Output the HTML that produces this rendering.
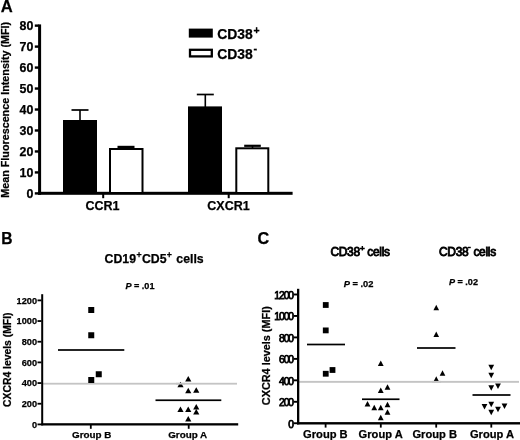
<!DOCTYPE html>
<html><head><meta charset="utf-8"><title>Figure</title>
<style>html,body{margin:0;padding:0;background:#fff;}body{width:520px;height:440px;overflow:hidden;}svg{display:block;filter:blur(0.35px);}text{font-family:"Liberation Sans", Arial, Helvetica, sans-serif;fill:#000;}.b{font-weight:bold;stroke:#000;stroke-width:0.25px;}</style>
</head><body>
<svg width="520" height="440" viewBox="0 0 520 440">
<rect width="520" height="440" fill="#fff"/>
<text class="b" x="0.8" y="12.1" font-size="16.6">A</text>
<text class="b" transform="translate(9.3,197.8) rotate(-90)" font-size="10.7" textLength="176" lengthAdjust="spacingAndGlyphs">Mean Fluorescence Intensity (MFI)</text>
<rect x="38.1" y="24.4" width="3" height="170.4" fill="#000"/>
<rect x="38.1" y="191.8" width="254.5" height="3" fill="#000"/>
<rect x="34.8" y="192.20" width="4" height="2.4" fill="#000"/>
<text class="b" x="33.4" y="198.10" font-size="12.4" text-anchor="end">0</text>
<rect x="34.8" y="171.23" width="4" height="2.4" fill="#000"/>
<text class="b" x="33.4" y="177.13" font-size="12.4" text-anchor="end">10</text>
<rect x="34.8" y="150.26" width="4" height="2.4" fill="#000"/>
<text class="b" x="33.4" y="156.16" font-size="12.4" text-anchor="end">20</text>
<rect x="34.8" y="129.29" width="4" height="2.4" fill="#000"/>
<text class="b" x="33.4" y="135.19" font-size="12.4" text-anchor="end">30</text>
<rect x="34.8" y="108.32" width="4" height="2.4" fill="#000"/>
<text class="b" x="33.4" y="114.22" font-size="12.4" text-anchor="end">40</text>
<rect x="34.8" y="87.35" width="4" height="2.4" fill="#000"/>
<text class="b" x="33.4" y="93.25" font-size="12.4" text-anchor="end">50</text>
<rect x="34.8" y="66.38" width="4" height="2.4" fill="#000"/>
<text class="b" x="33.4" y="72.28" font-size="12.4" text-anchor="end">60</text>
<rect x="34.8" y="45.41" width="4" height="2.4" fill="#000"/>
<text class="b" x="33.4" y="51.31" font-size="12.4" text-anchor="end">70</text>
<rect x="34.8" y="24.44" width="4" height="2.4" fill="#000"/>
<text class="b" x="33.4" y="30.34" font-size="12.4" text-anchor="end">80</text>
<rect x="102.20" y="193" width="2" height="5.2" fill="#000"/>
<rect x="227.70" y="193" width="2" height="5.2" fill="#000"/>
<rect x="63" y="120" width="34" height="73" fill="#000"/>
<rect x="188" y="106.4" width="34" height="86.6" fill="#000"/>
<rect x="110" y="149" width="32.5" height="44" fill="#fff" stroke="#000" stroke-width="2"/>
<rect x="236.3" y="148.3" width="32" height="44.7" fill="#fff" stroke="#000" stroke-width="2"/>
<rect x="79.20" y="110.00" width="1.6" height="11.00" fill="#000"/>
<rect x="71.50" y="109.15" width="17.00" height="1.70" fill="#000"/>
<rect x="204.50" y="94.50" width="1.6" height="13.50" fill="#000"/>
<rect x="196.80" y="93.65" width="17.00" height="1.70" fill="#000"/>
<rect x="125.20" y="146.90" width="1.6" height="2.10" fill="#000"/>
<rect x="117.50" y="145.80" width="17.00" height="2.20" fill="#000"/>
<rect x="251.70" y="145.80" width="1.6" height="3.20" fill="#000"/>
<rect x="244.20" y="144.70" width="16.60" height="2.20" fill="#000"/>
<text class="b" x="102.4" y="210.2" font-size="12.5" text-anchor="middle">CCR1</text>
<text class="b" x="228.5" y="210.2" font-size="12.5" text-anchor="middle">CXCR1</text>
<rect x="188.8" y="28.6" width="24" height="9" fill="#000"/>
<rect x="190" y="49.8" width="21.8" height="6.6" fill="#fff" stroke="#000" stroke-width="2.3"/>
<text class="b" x="217.3" y="38.6" font-size="13.9">CD38</text><text class="b" x="253.5" y="34" font-size="10.5">+</text>
<text class="b" x="217.3" y="58.6" font-size="13.9">CD38</text><text class="b" x="253.5" y="52" font-size="11">-</text>
<text class="b" x="1.3" y="243.6" font-size="15.6">B</text>
<text class="b" x="104.6" y="263" font-size="12.3">CD19</text><text class="b" x="136.4" y="258" font-size="8.8">+</text><text class="b" x="141.9" y="263" font-size="12.3">CD5</text><text class="b" x="166.7" y="258" font-size="8.8">+</text><text class="b" x="176.3" y="263" font-size="12.3">cells</text>
<text class="b" x="125.4" y="288.9" font-size="9.1"><tspan font-style="italic">P</tspan> = .01</text>
<text class="b" transform="translate(11,407) rotate(-90)" font-size="10.3" textLength="94.5" lengthAdjust="spacingAndGlyphs">CXCR4 levels (MFI)</text>
<rect x="43" y="382.8" width="194" height="1.8" fill="#c4c4c4"/>
<rect x="41.2" y="294.2" width="2" height="131.2" fill="#000"/>
<rect x="41.2" y="423.2" width="197" height="2.3" fill="#000"/>
<rect x="37.5" y="423.50" width="4" height="1.8" fill="#000"/>
<text class="b" x="37" y="427.70" font-size="9.2" text-anchor="end">0</text>
<rect x="37.5" y="402.83" width="4" height="1.8" fill="#000"/>
<text class="b" x="37" y="407.03" font-size="9.2" text-anchor="end">200</text>
<rect x="37.5" y="382.16" width="4" height="1.8" fill="#000"/>
<text class="b" x="37" y="386.36" font-size="9.2" text-anchor="end">400</text>
<rect x="37.5" y="361.49" width="4" height="1.8" fill="#000"/>
<text class="b" x="37" y="365.69" font-size="9.2" text-anchor="end">600</text>
<rect x="37.5" y="340.82" width="4" height="1.8" fill="#000"/>
<text class="b" x="37" y="345.02" font-size="9.2" text-anchor="end">800</text>
<rect x="37.5" y="320.15" width="4" height="1.8" fill="#000"/>
<text class="b" x="37" y="324.35" font-size="9.2" text-anchor="end">1000</text>
<rect x="37.5" y="299.48" width="4" height="1.8" fill="#000"/>
<text class="b" x="37" y="303.68" font-size="9.2" text-anchor="end">1200</text>
<rect x="89.90" y="424" width="1.8" height="4.8" fill="#000"/>
<rect x="187.80" y="424" width="1.8" height="4.8" fill="#000"/>
<rect x="88.25" y="307.00" width="6.00" height="6.00" fill="#000"/>
<rect x="88.25" y="332.25" width="6.00" height="6.00" fill="#000"/>
<rect x="95.75" y="371.25" width="6.00" height="6.00" fill="#000"/>
<rect x="88.25" y="377.00" width="6.00" height="6.00" fill="#000"/>
<rect x="58.00" y="349.15" width="66.30" height="1.70" fill="#000"/>
<path d="M188.25 375.90L191.35 381.60L185.15 381.60Z" fill="#000"/>
<path d="M180.50 381.65L183.60 387.35L177.40 387.35Z" fill="#000"/>
<path d="M188.25 387.65L191.35 393.35L185.15 393.35Z" fill="#000"/>
<path d="M196.25 387.15L199.35 392.85L193.15 392.85Z" fill="#000"/>
<path d="M180.50 406.40L183.60 412.10L177.40 412.10Z" fill="#000"/>
<path d="M188.25 406.40L191.35 412.10L185.15 412.10Z" fill="#000"/>
<path d="M196.25 403.90L199.35 409.60L193.15 409.60Z" fill="#000"/>
<path d="M196.25 408.90L199.35 414.60L193.15 414.60Z" fill="#000"/>
<path d="M188.25 415.90L191.35 421.60L185.15 421.60Z" fill="#000"/>
<rect x="176" y="382.8" width="9" height="1.8" fill="#c4c4c4"/>
<rect x="155.50" y="399.40" width="65.80" height="1.70" fill="#000"/>
<text class="b" x="91.8" y="437.8" font-size="9.85" text-anchor="middle">Group B</text>
<text class="b" x="187.7" y="437.8" font-size="9.85" text-anchor="middle">Group A</text>
<text class="b" x="257.5" y="243.6" font-size="16.2">C</text>
<text x="330.4" y="255.6" font-size="12" stroke="#000" stroke-width="0.85" letter-spacing="-0.3">CD38<tspan dy="-4.3" font-size="8">+</tspan><tspan dy="4.3"> cells</tspan></text>
<text x="439" y="255.6" font-size="12" stroke="#000" stroke-width="0.85" letter-spacing="-0.3">CD38<tspan dy="-6.8" dx="-0.5" font-size="8">-</tspan><tspan dy="6.8"> cells</tspan></text>
<text class="b" x="343.7" y="286.5" font-size="9.3"><tspan font-style="italic">P</tspan> = .02</text>
<text class="b" x="448.9" y="284.6" font-size="9.1"><tspan font-style="italic">P</tspan> = .02</text>
<text class="b" transform="translate(269.9,405.2) rotate(-90)" font-size="10.8" textLength="99" lengthAdjust="spacingAndGlyphs">CXCR4 levels (MFI)</text>
<rect x="299" y="380.9" width="220" height="1.9" fill="#c4c4c4"/>
<rect x="297" y="288.8" width="2.3" height="135.6" fill="#000"/>
<rect x="297" y="422.1" width="223" height="2.4" fill="#000"/>
<rect x="293.6" y="422.30" width="4" height="1.9" fill="#000"/>
<text x="293" y="427.75" font-size="10.3" text-anchor="end" letter-spacing="-1.05" stroke="#000" stroke-width="0.75">0</text>
<rect x="293.6" y="400.84" width="4" height="1.9" fill="#000"/>
<text x="293" y="406.29" font-size="10.3" text-anchor="end" letter-spacing="-1.05" stroke="#000" stroke-width="0.75">200</text>
<rect x="293.6" y="379.38" width="4" height="1.9" fill="#000"/>
<text x="293" y="384.83" font-size="10.3" text-anchor="end" letter-spacing="-1.05" stroke="#000" stroke-width="0.75">400</text>
<rect x="293.6" y="357.92" width="4" height="1.9" fill="#000"/>
<text x="293" y="363.37" font-size="10.3" text-anchor="end" letter-spacing="-1.05" stroke="#000" stroke-width="0.75">600</text>
<rect x="293.6" y="336.46" width="4" height="1.9" fill="#000"/>
<text x="293" y="341.91" font-size="10.3" text-anchor="end" letter-spacing="-1.05" stroke="#000" stroke-width="0.75">800</text>
<rect x="293.6" y="315.00" width="4" height="1.9" fill="#000"/>
<text x="293" y="320.45" font-size="10.3" text-anchor="end" letter-spacing="-1.05" stroke="#000" stroke-width="0.75">1000</text>
<rect x="293.6" y="293.54" width="4" height="1.9" fill="#000"/>
<text x="293" y="298.99" font-size="10.3" text-anchor="end" letter-spacing="-1.05" stroke="#000" stroke-width="0.75">1200</text>
<rect x="324.70" y="423" width="1.8" height="4.6" fill="#000"/>
<rect x="379.90" y="423" width="1.8" height="4.6" fill="#000"/>
<rect x="435.30" y="423" width="1.8" height="4.6" fill="#000"/>
<rect x="490.40" y="423" width="1.8" height="4.6" fill="#000"/>
<rect x="322.85" y="302.10" width="5.80" height="5.80" fill="#000"/>
<rect x="322.85" y="327.50" width="5.80" height="5.80" fill="#000"/>
<rect x="322.85" y="370.85" width="5.80" height="5.80" fill="#000"/>
<rect x="329.60" y="367.10" width="5.80" height="5.80" fill="#000"/>
<rect x="307.00" y="343.65" width="38.00" height="1.70" fill="#000"/>
<path d="M380.75 360.45L383.65 366.05L377.85 366.05Z" fill="#000"/>
<path d="M387.50 384.20L390.40 389.80L384.60 389.80Z" fill="#000"/>
<path d="M380.75 387.45L383.65 393.05L377.85 393.05Z" fill="#000"/>
<path d="M367.50 400.95L370.40 406.55L364.60 406.55Z" fill="#000"/>
<path d="M387.50 401.70L390.40 407.30L384.60 407.30Z" fill="#000"/>
<path d="M374.25 404.70L377.15 410.30L371.35 410.30Z" fill="#000"/>
<path d="M380.75 404.70L383.65 410.30L377.85 410.30Z" fill="#000"/>
<path d="M387.50 409.20L390.40 414.80L384.60 414.80Z" fill="#000"/>
<path d="M380.75 414.70L383.65 420.30L377.85 420.30Z" fill="#000"/>
<rect x="362.00" y="398.40" width="37.50" height="1.70" fill="#000"/>
<path d="M436.25 304.75L439.05 310.25L433.45 310.25Z" fill="#000"/>
<path d="M436.25 331.50L439.05 337.00L433.45 337.00Z" fill="#000"/>
<path d="M442.50 370.25L445.30 375.75L439.70 375.75Z" fill="#000"/>
<path d="M436.25 376.25L439.05 381.75L433.45 381.75Z" fill="#000"/>
<rect x="432" y="380.9" width="9" height="1.9" fill="#c4c4c4"/>
<rect x="417.00" y="347.15" width="38.50" height="1.70" fill="#000"/>
<path d="M491.25 370.30L494.15 364.70L488.35 364.70Z" fill="#000"/>
<path d="M491.25 378.30L494.15 372.70L488.35 372.70Z" fill="#000"/>
<path d="M498.00 389.05L500.90 383.45L495.10 383.45Z" fill="#000"/>
<path d="M491.25 390.80L494.15 385.20L488.35 385.20Z" fill="#000"/>
<path d="M491.25 407.30L494.15 401.70L488.35 401.70Z" fill="#000"/>
<path d="M504.50 409.05L507.40 403.45L501.60 403.45Z" fill="#000"/>
<path d="M484.50 409.55L487.40 403.95L481.60 403.95Z" fill="#000"/>
<path d="M498.00 412.30L500.90 406.70L495.10 406.70Z" fill="#000"/>
<path d="M491.25 415.30L494.15 409.70L488.35 409.70Z" fill="#000"/>
<rect x="472.50" y="394.15" width="38.00" height="1.70" fill="#000"/>
<text class="b" x="325.4" y="437.6" font-size="11.15" text-anchor="middle">Group B</text>
<text class="b" x="380.7" y="437.6" font-size="11.15" text-anchor="middle">Group A</text>
<text class="b" x="434.7" y="437.6" font-size="11.15" text-anchor="middle">Group B</text>
<text class="b" x="492.0" y="437.6" font-size="11.15" text-anchor="middle">Group A</text>
</svg></body></html>
